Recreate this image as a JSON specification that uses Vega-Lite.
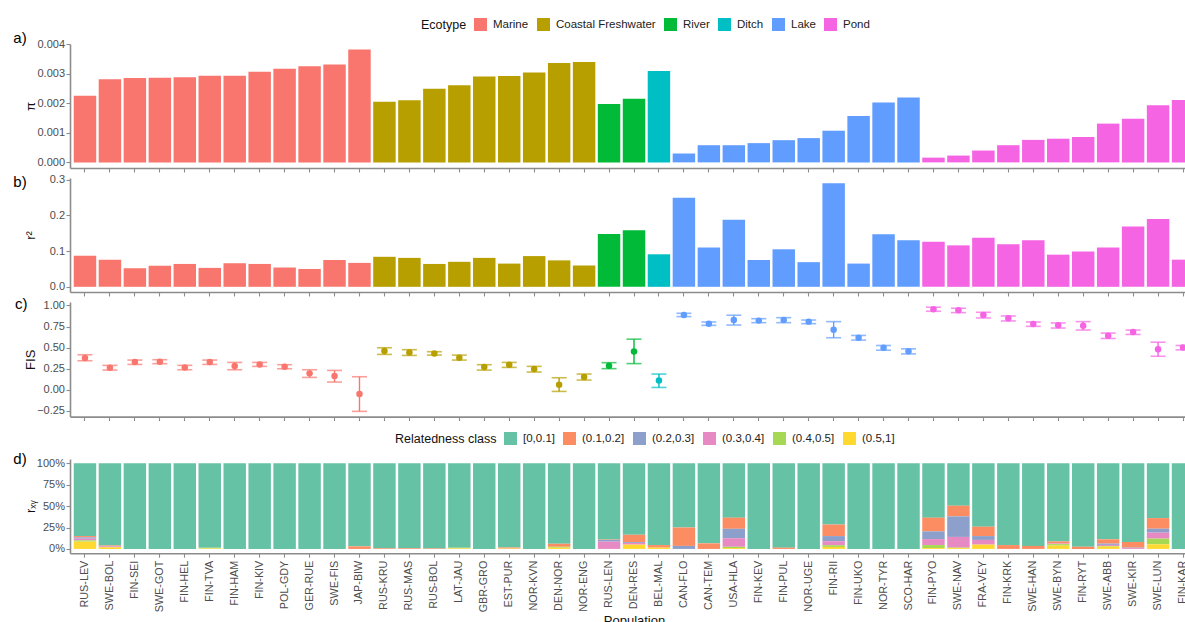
{
  "$schema": "https://vega.github.io/schema/vega-lite/v6.json",
  "background": "white",
  "padding": {"left": 13, "top": 18, "right": 0, "bottom": 0},
  "config": {
    "view": {"stroke": null},
    "font": "Liberation Sans",
    "axis": {
      "domainColor": "#8c8c8c",
      "domainWidth": 1.6,
      "tickColor": "#8c8c8c",
      "tickWidth": 1.1,
      "tickSize": 4,
      "labelColor": "#4d4d4d",
      "labelFont": "Liberation Sans",
      "labelFontSize": 11,
      "labelPadding": 1.5,
      "labelOverlap": false,
      "labelFlush": false,
      "titleFont": "Liberation Sans",
      "titleFontSize": 13,
      "titleFontWeight": "normal",
      "titleColor": "#111111",
      "grid": false
    },
    "axisY": {"minExtent": 30, "maxExtent": 30, "titlePadding": 3},
    "axisX": {"labelFontSize": 10.8, "labelPadding": 3, "titlePadding": 3},
    "legend": {
      "orient": "none",
      "direction": "horizontal",
      "titleOrient": "left",
      "symbolType": "square",
      "symbolSize": 169,
      "symbolStrokeWidth": 0,
      "symbolOpacity": 1,
      "labelFont": "Liberation Sans",
      "labelFontSize": 11.5,
      "labelColor": "#222222",
      "labelOffset": 6,
      "columnPadding": 8,
      "titleFont": "Liberation Sans",
      "titleFontSize": 12.5,
      "titleFontWeight": "normal",
      "titleColor": "#111111",
      "titlePadding": 7
    },
    "title": {
      "font": "Liberation Sans",
      "fontSize": 15,
      "fontWeight": "normal",
      "color": "#000000",
      "orient": "left",
      "anchor": "end",
      "angle": 0,
      "align": "right",
      "baseline": "middle",
      "offset": -16,
      "frame": "group"
    }
  },
  "datasets": {
    "pops": [
      {"pop": "RUS-LEV", "ecotype": "Marine", "pi": 0.00225, "r2": 0.087, "fis": 0.376, "fis_lo": 0.344, "fis_hi": 0.415},
      {"pop": "SWE-BOL", "ecotype": "Marine", "pi": 0.00281, "r2": 0.076, "fis": 0.261, "fis_lo": 0.233, "fis_hi": 0.289},
      {"pop": "FIN-SEI", "ecotype": "Marine", "pi": 0.00285, "r2": 0.052, "fis": 0.328, "fis_lo": 0.300, "fis_hi": 0.352},
      {"pop": "SWE-GOT", "ecotype": "Marine", "pi": 0.00286, "r2": 0.059, "fis": 0.332, "fis_lo": 0.309, "fis_hi": 0.356},
      {"pop": "FIN-HEL", "ecotype": "Marine", "pi": 0.00288, "r2": 0.064, "fis": 0.265, "fis_lo": 0.237, "fis_hi": 0.289},
      {"pop": "FIN-TVA", "ecotype": "Marine", "pi": 0.00293, "r2": 0.053, "fis": 0.328, "fis_lo": 0.300, "fis_hi": 0.352},
      {"pop": "FIN-HAM", "ecotype": "Marine", "pi": 0.00293, "r2": 0.066, "fis": 0.281, "fis_lo": 0.237, "fis_hi": 0.324},
      {"pop": "FIN-KIV", "ecotype": "Marine", "pi": 0.00306, "r2": 0.064, "fis": 0.300, "fis_lo": 0.277, "fis_hi": 0.324},
      {"pop": "POL-GDY", "ecotype": "Marine", "pi": 0.00316, "r2": 0.054, "fis": 0.273, "fis_lo": 0.249, "fis_hi": 0.297},
      {"pop": "GER-RUE", "ecotype": "Marine", "pi": 0.00325, "r2": 0.050, "fis": 0.194, "fis_lo": 0.146, "fis_hi": 0.237},
      {"pop": "SWE-FIS", "ecotype": "Marine", "pi": 0.00331, "r2": 0.075, "fis": 0.162, "fis_lo": 0.091, "fis_hi": 0.229},
      {"pop": "JAP-BIW", "ecotype": "Marine", "pi": 0.00381, "r2": 0.067, "fis": -0.051, "fis_lo": -0.257, "fis_hi": 0.154},
      {"pop": "RUS-KRU", "ecotype": "Coastal Freshwater", "pi": 0.00205, "r2": 0.084, "fis": 0.459, "fis_lo": 0.419, "fis_hi": 0.498},
      {"pop": "RUS-MAS", "ecotype": "Coastal Freshwater", "pi": 0.00210, "r2": 0.081, "fis": 0.443, "fis_lo": 0.407, "fis_hi": 0.475},
      {"pop": "RUS-BOL", "ecotype": "Coastal Freshwater", "pi": 0.00249, "r2": 0.064, "fis": 0.431, "fis_lo": 0.411, "fis_hi": 0.451},
      {"pop": "LAT-JAU", "ecotype": "Coastal Freshwater", "pi": 0.00261, "r2": 0.070, "fis": 0.380, "fis_lo": 0.352, "fis_hi": 0.411},
      {"pop": "GBR-GRO", "ecotype": "Coastal Freshwater", "pi": 0.00290, "r2": 0.081, "fis": 0.269, "fis_lo": 0.233, "fis_hi": 0.297},
      {"pop": "EST-PUR", "ecotype": "Coastal Freshwater", "pi": 0.00292, "r2": 0.065, "fis": 0.297, "fis_lo": 0.265, "fis_hi": 0.324},
      {"pop": "NOR-KVN", "ecotype": "Coastal Freshwater", "pi": 0.00304, "r2": 0.086, "fis": 0.245, "fis_lo": 0.210, "fis_hi": 0.277},
      {"pop": "DEN-NOR", "ecotype": "Coastal Freshwater", "pi": 0.00336, "r2": 0.074, "fis": 0.059, "fis_lo": -0.020, "fis_hi": 0.142},
      {"pop": "NOR-ENG", "ecotype": "Coastal Freshwater", "pi": 0.00339, "r2": 0.060, "fis": 0.150, "fis_lo": 0.115, "fis_hi": 0.186},
      {"pop": "RUS-LEN", "ecotype": "River", "pi": 0.00197, "r2": 0.148, "fis": 0.285, "fis_lo": 0.250, "fis_hi": 0.321},
      {"pop": "DEN-RES", "ecotype": "River", "pi": 0.00215, "r2": 0.158, "fis": 0.453, "fis_lo": 0.310, "fis_hi": 0.600},
      {"pop": "BEL-MAL", "ecotype": "Ditch", "pi": 0.00309, "r2": 0.091, "fis": 0.110, "fis_lo": 0.027, "fis_hi": 0.186},
      {"pop": "CAN-FLO", "ecotype": "Lake", "pi": 0.00030, "r2": 0.249, "fis": 0.888, "fis_lo": 0.868, "fis_hi": 0.907},
      {"pop": "CAN-TEM", "ecotype": "Lake", "pi": 0.00058, "r2": 0.110, "fis": 0.784, "fis_lo": 0.764, "fis_hi": 0.804},
      {"pop": "USA-HLA", "ecotype": "Lake", "pi": 0.00058, "r2": 0.188, "fis": 0.828, "fis_lo": 0.768, "fis_hi": 0.884},
      {"pop": "FIN-KEV", "ecotype": "Lake", "pi": 0.00065, "r2": 0.075, "fis": 0.820, "fis_lo": 0.796, "fis_hi": 0.843},
      {"pop": "FIN-PUL", "ecotype": "Lake", "pi": 0.00075, "r2": 0.105, "fis": 0.828, "fis_lo": 0.796, "fis_hi": 0.855},
      {"pop": "NOR-UGE", "ecotype": "Lake", "pi": 0.00082, "r2": 0.069, "fis": 0.808, "fis_lo": 0.784, "fis_hi": 0.827},
      {"pop": "FIN-RII", "ecotype": "Lake", "pi": 0.00107, "r2": 0.290, "fis": 0.712, "fis_lo": 0.617, "fis_hi": 0.808},
      {"pop": "FIN-UKO", "ecotype": "Lake", "pi": 0.00157, "r2": 0.065, "fis": 0.617, "fis_lo": 0.589, "fis_hi": 0.644},
      {"pop": "NOR-TYR", "ecotype": "Lake", "pi": 0.00202, "r2": 0.147, "fis": 0.497, "fis_lo": 0.469, "fis_hi": 0.525},
      {"pop": "SCO-HAR", "ecotype": "Lake", "pi": 0.00219, "r2": 0.130, "fis": 0.457, "fis_lo": 0.425, "fis_hi": 0.485},
      {"pop": "FIN-PYO", "ecotype": "Pond", "pi": 0.00016, "r2": 0.126, "fis": 0.955, "fis_lo": 0.931, "fis_hi": 0.979},
      {"pop": "SWE-NAV", "ecotype": "Pond", "pi": 0.00023, "r2": 0.116, "fis": 0.943, "fis_lo": 0.915, "fis_hi": 0.967},
      {"pop": "FRA-VEY", "ecotype": "Pond", "pi": 0.00040, "r2": 0.137, "fis": 0.888, "fis_lo": 0.852, "fis_hi": 0.919},
      {"pop": "FIN-KRK", "ecotype": "Pond", "pi": 0.00058, "r2": 0.119, "fis": 0.848, "fis_lo": 0.816, "fis_hi": 0.875},
      {"pop": "SWE-HAN", "ecotype": "Pond", "pi": 0.00076, "r2": 0.130, "fis": 0.780, "fis_lo": 0.752, "fis_hi": 0.804},
      {"pop": "SWE-BYN", "ecotype": "Pond", "pi": 0.00080, "r2": 0.090, "fis": 0.764, "fis_lo": 0.732, "fis_hi": 0.792},
      {"pop": "FIN-RYT", "ecotype": "Pond", "pi": 0.00086, "r2": 0.099, "fis": 0.760, "fis_lo": 0.708, "fis_hi": 0.808},
      {"pop": "SWE-ABB", "ecotype": "Pond", "pi": 0.00131, "r2": 0.110, "fis": 0.640, "fis_lo": 0.608, "fis_hi": 0.672},
      {"pop": "SWE-KIR", "ecotype": "Pond", "pi": 0.00147, "r2": 0.169, "fis": 0.684, "fis_lo": 0.656, "fis_hi": 0.708},
      {"pop": "SWE-LUN", "ecotype": "Pond", "pi": 0.00193, "r2": 0.190, "fis": 0.480, "fis_lo": 0.397, "fis_hi": 0.564},
      {"pop": "FIN-KAR", "ecotype": "Pond", "pi": 0.00211, "r2": 0.076, "fis": 0.500, "fis_lo": 0.473, "fis_hi": 0.525}
    ],
    "related": [
      {"pop": "RUS-LEV", "cls": "[0,0.1]", "lower": 0, "share": 85},
      {"pop": "RUS-LEV", "cls": "(0.1,0.2]", "lower": 0.1, "share": 1.5},
      {"pop": "RUS-LEV", "cls": "(0.2,0.3]", "lower": 0.2, "share": 1.5},
      {"pop": "RUS-LEV", "cls": "(0.3,0.4]", "lower": 0.3, "share": 2},
      {"pop": "RUS-LEV", "cls": "(0.4,0.5]", "lower": 0.4, "share": 1.5},
      {"pop": "RUS-LEV", "cls": "(0.5,1]", "lower": 0.5, "share": 8.5},
      {"pop": "SWE-BOL", "cls": "[0,0.1]", "lower": 0, "share": 96},
      {"pop": "SWE-BOL", "cls": "(0.1,0.2]", "lower": 0.1, "share": 0.5},
      {"pop": "SWE-BOL", "cls": "(0.2,0.3]", "lower": 0.2, "share": 0.5},
      {"pop": "SWE-BOL", "cls": "(0.3,0.4]", "lower": 0.3, "share": 1},
      {"pop": "SWE-BOL", "cls": "(0.5,1]", "lower": 0.5, "share": 2},
      {"pop": "FIN-SEI", "cls": "[0,0.1]", "lower": 0, "share": 100},
      {"pop": "SWE-GOT", "cls": "[0,0.1]", "lower": 0, "share": 100},
      {"pop": "FIN-HEL", "cls": "[0,0.1]", "lower": 0, "share": 100},
      {"pop": "FIN-TVA", "cls": "[0,0.1]", "lower": 0, "share": 98.7},
      {"pop": "FIN-TVA", "cls": "(0.4,0.5]", "lower": 0.4, "share": 0.8},
      {"pop": "FIN-TVA", "cls": "(0.5,1]", "lower": 0.5, "share": 0.5},
      {"pop": "FIN-HAM", "cls": "[0,0.1]", "lower": 0, "share": 100},
      {"pop": "FIN-KIV", "cls": "[0,0.1]", "lower": 0, "share": 100},
      {"pop": "POL-GDY", "cls": "[0,0.1]", "lower": 0, "share": 100},
      {"pop": "GER-RUE", "cls": "[0,0.1]", "lower": 0, "share": 100},
      {"pop": "SWE-FIS", "cls": "[0,0.1]", "lower": 0, "share": 100},
      {"pop": "JAP-BIW", "cls": "[0,0.1]", "lower": 0, "share": 97},
      {"pop": "JAP-BIW", "cls": "(0.1,0.2]", "lower": 0.1, "share": 3},
      {"pop": "RUS-KRU", "cls": "[0,0.1]", "lower": 0, "share": 99.2},
      {"pop": "RUS-KRU", "cls": "(0.1,0.2]", "lower": 0.1, "share": 0.8},
      {"pop": "RUS-MAS", "cls": "[0,0.1]", "lower": 0, "share": 99.2},
      {"pop": "RUS-MAS", "cls": "(0.1,0.2]", "lower": 0.1, "share": 0.8},
      {"pop": "RUS-BOL", "cls": "[0,0.1]", "lower": 0, "share": 99.4},
      {"pop": "RUS-BOL", "cls": "(0.1,0.2]", "lower": 0.1, "share": 0.6},
      {"pop": "LAT-JAU", "cls": "[0,0.1]", "lower": 0, "share": 98.6},
      {"pop": "LAT-JAU", "cls": "(0.4,0.5]", "lower": 0.4, "share": 0.8},
      {"pop": "LAT-JAU", "cls": "(0.5,1]", "lower": 0.5, "share": 0.6},
      {"pop": "GBR-GRO", "cls": "[0,0.1]", "lower": 0, "share": 100},
      {"pop": "EST-PUR", "cls": "[0,0.1]", "lower": 0, "share": 98.4},
      {"pop": "EST-PUR", "cls": "(0.1,0.2]", "lower": 0.1, "share": 1.2},
      {"pop": "EST-PUR", "cls": "(0.5,1]", "lower": 0.5, "share": 0.4},
      {"pop": "NOR-KVN", "cls": "[0,0.1]", "lower": 0, "share": 100},
      {"pop": "DEN-NOR", "cls": "[0,0.1]", "lower": 0, "share": 94},
      {"pop": "DEN-NOR", "cls": "(0.1,0.2]", "lower": 0.1, "share": 3.5},
      {"pop": "DEN-NOR", "cls": "(0.4,0.5]", "lower": 0.4, "share": 1},
      {"pop": "DEN-NOR", "cls": "(0.5,1]", "lower": 0.5, "share": 1.5},
      {"pop": "NOR-ENG", "cls": "[0,0.1]", "lower": 0, "share": 100},
      {"pop": "RUS-LEN", "cls": "[0,0.1]", "lower": 0, "share": 89},
      {"pop": "RUS-LEN", "cls": "(0.1,0.2]", "lower": 0.1, "share": 0.5},
      {"pop": "RUS-LEN", "cls": "(0.2,0.3]", "lower": 0.2, "share": 2},
      {"pop": "RUS-LEN", "cls": "(0.3,0.4]", "lower": 0.3, "share": 8.5},
      {"pop": "DEN-RES", "cls": "[0,0.1]", "lower": 0, "share": 83.5},
      {"pop": "DEN-RES", "cls": "(0.1,0.2]", "lower": 0.1, "share": 8.5},
      {"pop": "DEN-RES", "cls": "(0.2,0.3]", "lower": 0.2, "share": 1},
      {"pop": "DEN-RES", "cls": "(0.3,0.4]", "lower": 0.3, "share": 2},
      {"pop": "DEN-RES", "cls": "(0.5,1]", "lower": 0.5, "share": 5},
      {"pop": "BEL-MAL", "cls": "[0,0.1]", "lower": 0, "share": 95.5},
      {"pop": "BEL-MAL", "cls": "(0.1,0.2]", "lower": 0.1, "share": 3},
      {"pop": "BEL-MAL", "cls": "(0.5,1]", "lower": 0.5, "share": 1.5},
      {"pop": "CAN-FLO", "cls": "[0,0.1]", "lower": 0, "share": 75},
      {"pop": "CAN-FLO", "cls": "(0.1,0.2]", "lower": 0.1, "share": 21.5},
      {"pop": "CAN-FLO", "cls": "(0.2,0.3]", "lower": 0.2, "share": 3.5},
      {"pop": "CAN-TEM", "cls": "[0,0.1]", "lower": 0, "share": 93.5},
      {"pop": "CAN-TEM", "cls": "(0.1,0.2]", "lower": 0.1, "share": 6.5},
      {"pop": "USA-HLA", "cls": "[0,0.1]", "lower": 0, "share": 63.5},
      {"pop": "USA-HLA", "cls": "(0.1,0.2]", "lower": 0.1, "share": 13},
      {"pop": "USA-HLA", "cls": "(0.2,0.3]", "lower": 0.2, "share": 11},
      {"pop": "USA-HLA", "cls": "(0.3,0.4]", "lower": 0.3, "share": 10},
      {"pop": "USA-HLA", "cls": "(0.4,0.5]", "lower": 0.4, "share": 1.5},
      {"pop": "USA-HLA", "cls": "(0.5,1]", "lower": 0.5, "share": 1},
      {"pop": "FIN-KEV", "cls": "[0,0.1]", "lower": 0, "share": 100},
      {"pop": "FIN-PUL", "cls": "[0,0.1]", "lower": 0, "share": 98.5},
      {"pop": "FIN-PUL", "cls": "(0.1,0.2]", "lower": 0.1, "share": 1.5},
      {"pop": "NOR-UGE", "cls": "[0,0.1]", "lower": 0, "share": 100},
      {"pop": "FIN-RII", "cls": "[0,0.1]", "lower": 0, "share": 71.5},
      {"pop": "FIN-RII", "cls": "(0.1,0.2]", "lower": 0.1, "share": 13.5},
      {"pop": "FIN-RII", "cls": "(0.2,0.3]", "lower": 0.2, "share": 6},
      {"pop": "FIN-RII", "cls": "(0.3,0.4]", "lower": 0.3, "share": 4.7},
      {"pop": "FIN-RII", "cls": "(0.4,0.5]", "lower": 0.4, "share": 2},
      {"pop": "FIN-RII", "cls": "(0.5,1]", "lower": 0.5, "share": 2.3},
      {"pop": "FIN-UKO", "cls": "[0,0.1]", "lower": 0, "share": 100},
      {"pop": "NOR-TYR", "cls": "[0,0.1]", "lower": 0, "share": 100},
      {"pop": "SCO-HAR", "cls": "[0,0.1]", "lower": 0, "share": 100},
      {"pop": "FIN-PYO", "cls": "[0,0.1]", "lower": 0, "share": 63.5},
      {"pop": "FIN-PYO", "cls": "(0.1,0.2]", "lower": 0.1, "share": 16},
      {"pop": "FIN-PYO", "cls": "(0.2,0.3]", "lower": 0.2, "share": 9},
      {"pop": "FIN-PYO", "cls": "(0.3,0.4]", "lower": 0.3, "share": 7},
      {"pop": "FIN-PYO", "cls": "(0.4,0.5]", "lower": 0.4, "share": 3.5},
      {"pop": "FIN-PYO", "cls": "(0.5,1]", "lower": 0.5, "share": 1},
      {"pop": "SWE-NAV", "cls": "[0,0.1]", "lower": 0, "share": 49.5},
      {"pop": "SWE-NAV", "cls": "(0.1,0.2]", "lower": 0.1, "share": 12.5},
      {"pop": "SWE-NAV", "cls": "(0.2,0.3]", "lower": 0.2, "share": 24},
      {"pop": "SWE-NAV", "cls": "(0.3,0.4]", "lower": 0.3, "share": 12.5},
      {"pop": "SWE-NAV", "cls": "(0.4,0.5]", "lower": 0.4, "share": 0.5},
      {"pop": "SWE-NAV", "cls": "(0.5,1]", "lower": 0.5, "share": 1},
      {"pop": "FRA-VEY", "cls": "[0,0.1]", "lower": 0, "share": 74},
      {"pop": "FRA-VEY", "cls": "(0.1,0.2]", "lower": 0.1, "share": 11},
      {"pop": "FRA-VEY", "cls": "(0.2,0.3]", "lower": 0.2, "share": 4.5},
      {"pop": "FRA-VEY", "cls": "(0.3,0.4]", "lower": 0.3, "share": 5.5},
      {"pop": "FRA-VEY", "cls": "(0.5,1]", "lower": 0.5, "share": 5},
      {"pop": "FIN-KRK", "cls": "[0,0.1]", "lower": 0, "share": 95.5},
      {"pop": "FIN-KRK", "cls": "(0.1,0.2]", "lower": 0.1, "share": 4.5},
      {"pop": "SWE-HAN", "cls": "[0,0.1]", "lower": 0, "share": 96.5},
      {"pop": "SWE-HAN", "cls": "(0.1,0.2]", "lower": 0.1, "share": 3.5},
      {"pop": "SWE-BYN", "cls": "[0,0.1]", "lower": 0, "share": 91.3},
      {"pop": "SWE-BYN", "cls": "(0.1,0.2]", "lower": 0.1, "share": 2.3},
      {"pop": "SWE-BYN", "cls": "(0.3,0.4]", "lower": 0.3, "share": 0.8},
      {"pop": "SWE-BYN", "cls": "(0.4,0.5]", "lower": 0.4, "share": 1.7},
      {"pop": "SWE-BYN", "cls": "(0.5,1]", "lower": 0.5, "share": 3.9},
      {"pop": "FIN-RYT", "cls": "[0,0.1]", "lower": 0, "share": 97.5},
      {"pop": "FIN-RYT", "cls": "(0.1,0.2]", "lower": 0.1, "share": 2.5},
      {"pop": "SWE-ABB", "cls": "[0,0.1]", "lower": 0, "share": 88.8},
      {"pop": "SWE-ABB", "cls": "(0.1,0.2]", "lower": 0.1, "share": 5},
      {"pop": "SWE-ABB", "cls": "(0.2,0.3]", "lower": 0.2, "share": 1.5},
      {"pop": "SWE-ABB", "cls": "(0.3,0.4]", "lower": 0.3, "share": 1.2},
      {"pop": "SWE-ABB", "cls": "(0.4,0.5]", "lower": 0.4, "share": 0.8},
      {"pop": "SWE-ABB", "cls": "(0.5,1]", "lower": 0.5, "share": 2.7},
      {"pop": "SWE-KIR", "cls": "[0,0.1]", "lower": 0, "share": 91.9},
      {"pop": "SWE-KIR", "cls": "(0.1,0.2]", "lower": 0.1, "share": 6.6},
      {"pop": "SWE-KIR", "cls": "(0.2,0.3]", "lower": 0.2, "share": 0.5},
      {"pop": "SWE-KIR", "cls": "(0.3,0.4]", "lower": 0.3, "share": 1},
      {"pop": "SWE-LUN", "cls": "[0,0.1]", "lower": 0, "share": 64},
      {"pop": "SWE-LUN", "cls": "(0.1,0.2]", "lower": 0.1, "share": 12.4},
      {"pop": "SWE-LUN", "cls": "(0.2,0.3]", "lower": 0.2, "share": 4.6},
      {"pop": "SWE-LUN", "cls": "(0.3,0.4]", "lower": 0.3, "share": 7},
      {"pop": "SWE-LUN", "cls": "(0.4,0.5]", "lower": 0.4, "share": 6.6},
      {"pop": "SWE-LUN", "cls": "(0.5,1]", "lower": 0.5, "share": 5.4},
      {"pop": "FIN-KAR", "cls": "[0,0.1]", "lower": 0, "share": 100}
    ]
  },
  "spacing": 10,
  "resolve": {"scale": {"color": "independent"}},
  "vconcat": [
    {
      "spacing": 10,
      "bounds": "flush",
      "resolve": {"scale": {"color": "independent"}},
      "vconcat": [
        {
          "data": {"name": "pops"},
          "width": 1128,
          "height": 124,
          "title": {"text": "a)", "dy": -13},
          "mark": {"type": "bar"},
          "encoding": {
            "x": {"field": "pop", "type": "nominal", "sort": null, "scale": {"paddingInner": 0.1, "paddingOuter": 0.15}, "axis": {"labels": false, "title": null}},
            "y": {"field": "pi", "type": "quantitative", "scale": {"domain": [-0.00019, 0.004], "nice": false}, "axis": {"title": "π", "values": [0, 0.001, 0.002, 0.003, 0.004], "format": ".3f", "labelOverlap": false}},
            "color": {
              "field": "ecotype", "type": "nominal",
              "scale": {"domain": ["Marine", "Coastal Freshwater", "River", "Ditch", "Lake", "Pond"], "range": ["#F8766D", "#B79F00", "#00BA38", "#00BFC4", "#619CFF", "#F564E3"]},
              "legend": {"title": "Ecotype", "legendX": 351, "legendY": -26}
            }
          }
        },
        {
          "data": {"name": "pops"},
          "width": 1128,
          "height": 114,
          "title": {"text": "b)", "dy": -3},
          "mark": {"type": "bar"},
          "encoding": {
            "x": {"field": "pop", "type": "nominal", "sort": null, "scale": {"paddingInner": 0.1, "paddingOuter": 0.15}, "axis": {"labels": false, "title": null}},
            "y": {"field": "r2", "type": "quantitative", "scale": {"domain": [-0.0145, 0.3045], "nice": false}, "axis": {"title": "r²", "values": [0, 0.1, 0.2, 0.3], "format": ".1f", "labelOverlap": false}},
            "color": {
              "field": "ecotype", "type": "nominal",
              "scale": {"domain": ["Marine", "Coastal Freshwater", "River", "Ditch", "Lake", "Pond"], "range": ["#F8766D", "#B79F00", "#00BA38", "#00BFC4", "#619CFF", "#F564E3"]},
              "legend": null
            }
          }
        },
        {
          "data": {"name": "pops"},
          "width": 1128,
          "height": 114.6,
          "title": {"text": "c)", "dy": -5},
          "encoding": {
            "x": {"field": "pop", "type": "nominal", "sort": null, "scale": {"paddingInner": 0.1, "paddingOuter": 0.15}, "axis": {"labels": false, "title": null}},
            "color": {
              "field": "ecotype", "type": "nominal",
              "scale": {"domain": ["Marine", "Coastal Freshwater", "River", "Ditch", "Lake", "Pond"], "range": ["#F8766D", "#B79F00", "#00BA38", "#00BFC4", "#619CFF", "#F564E3"]},
              "legend": null
            }
          },
          "layer": [
            {
              "mark": {"type": "rule", "strokeWidth": 1.4},
              "encoding": {
                "y": {"field": "fis_lo", "type": "quantitative", "title": "FIS", "scale": {"domain": [-0.319, 1.041], "nice": false}, "axis": {"values": [-0.25, 0, 0.25, 0.5, 0.75, 1], "format": ".2f", "labelOverlap": false}},
                "y2": {"field": "fis_hi"}
              }
            },
            {
              "mark": {"type": "tick", "size": 15, "thickness": 1.6},
              "encoding": {
                "y": {"field": "fis_lo", "type": "quantitative", "title": "FIS", "scale": {"domain": [-0.319, 1.041], "nice": false}, "axis": {"values": [-0.25, 0, 0.25, 0.5, 0.75, 1], "format": ".2f", "labelOverlap": false}}
              }
            },
            {
              "mark": {"type": "tick", "size": 15, "thickness": 1.6},
              "encoding": {
                "y": {"field": "fis_hi", "type": "quantitative", "title": "FIS", "scale": {"domain": [-0.319, 1.041], "nice": false}, "axis": {"values": [-0.25, 0, 0.25, 0.5, 0.75, 1], "format": ".2f", "labelOverlap": false}}
              }
            },
            {
              "mark": {"type": "circle", "size": 42, "opacity": 1},
              "encoding": {
                "y": {"field": "fis", "type": "quantitative", "title": "FIS", "scale": {"domain": [-0.319, 1.041], "nice": false}, "axis": {"values": [-0.25, 0, 0.25, 0.5, 0.75, 1], "format": ".2f", "labelOverlap": false}}
              }
            }
          ]
        }
      ]
    },
    {
      "data": {"name": "related"},
      "width": 1128,
      "height": 94.2,
      "title": {"text": "d)", "dy": -7},
      "mark": {"type": "bar"},
      "encoding": {
        "x": {"field": "pop", "type": "nominal", "sort": null, "scale": {"paddingInner": 0.1, "paddingOuter": 0.15}, "axis": {"title": "Population", "labelAngle": -90}},
        "y": {"field": "share", "type": "quantitative", "stack": "normalize", "scale": {"domain": [-0.05, 1.05], "nice": false}, "axis": {"title": "rₓᵧ", "values": [0, 0.25, 0.5, 0.75, 1], "format": ".0%", "labelOverlap": false}},
        "color": {
          "field": "cls", "type": "nominal",
          "scale": {"domain": ["[0,0.1]", "(0.1,0.2]", "(0.2,0.3]", "(0.3,0.4]", "(0.4,0.5]", "(0.5,1]"], "range": ["#66C2A5", "#FC8D62", "#8DA0CB", "#E78AC3", "#A6D854", "#FFD92F"]},
          "legend": {"title": "Relatedness class", "legendX": 325, "legendY": -27}
        },
        "order": {"field": "lower", "type": "quantitative", "sort": "descending"}
      }
    }
  ]
}
